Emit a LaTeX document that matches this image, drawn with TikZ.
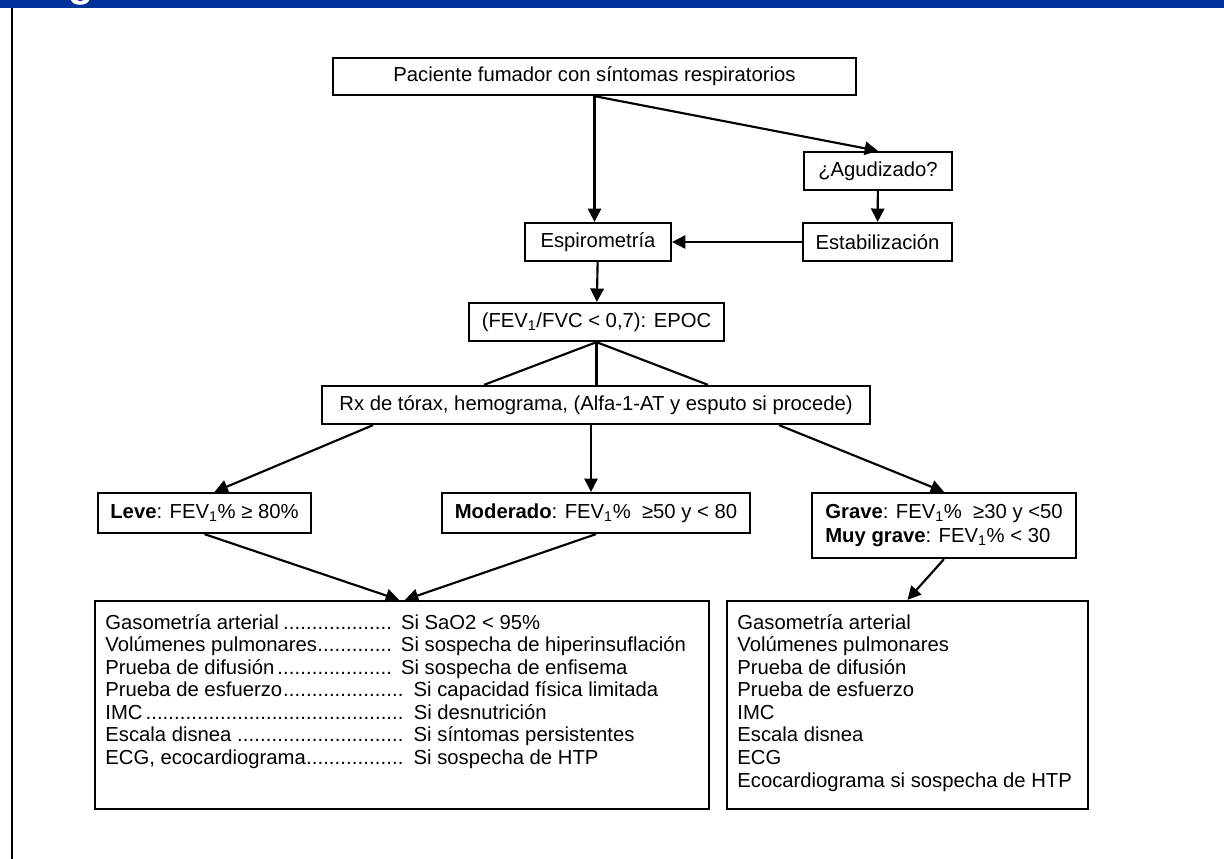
\documentclass[tikz,border=0pt]{standalone}
\usepackage{fontspec}
\setmainfont{Liberation Sans}
\usetikzlibrary{arrows.meta,calc}

\definecolor{barblue}{RGB}{0,51,153}
\newcommand{\puntos}{\leaders\hbox to 4.3pt{\hss.\hss}\hfill}
\newcommand{\fila}[3]{\makebox[#1][l]{#2\puntos} #3}

\tikzset{every picture/.style={line width=0.75pt}}
\tikzset{
  caja/.style={draw, line width=1.7, inner sep=0pt, align=center, font=\fontsize{15.2}{18}\selectfont},
  flecha/.style={line width=1.6, -{Triangle[length=10pt,width=10pt]}},
  linea/.style={line width=1.6},
  lista/.style={inner sep=0pt, align=left, font=\fontsize{15.2}{16.9}\selectfont},
}

\begin{document}
\begin{tikzpicture}[x=0.75pt,y=0.75pt,yscale=-1,xscale=1]
	\useasboundingbox (0,0) rectangle (1224,859);
	
	%Shape: Rectangle [title bar]
	\fill [barblue] (0,0) rectangle (1224,8);
	\begin{scope}
		\clip (0,0) rectangle (1224,8);
		% Text Node
		\node [text=white, inner sep=0pt, anchor=base, font=\fontsize{31}{31}\selectfont\bfseries] (titulo) at (81,-3) {g};
	\end{scope}
	%Straight Lines [frame]
	\draw [linea] (12,8) -- (12,859);
	
	% Text Node
	\node [caja, minimum width=392.25pt, minimum height=27.75pt] (pac) at (594.5,76.5) {Paciente fumador con síntomas respiratorios};
	% Text Node
	\node [caja, minimum width=111pt, minimum height=28.5pt] (agu) at (878,171) {¿Agudizado?};
	% Text Node
	\node [caja, minimum width=109.5pt, minimum height=28.5pt] (esp) at (598,242) {Espirometría};
	% Text Node
	\node [caja, minimum width=111.75pt, minimum height=28.5pt] (est) at (877.5,242) {Estabilización};
	% Text Node
	\node [caja, minimum width=191.25pt, minimum height=28.5pt] (fev) at (596.5,322) {(FEV\textsubscript{1}/FVC < 0,7): EPOC};
	% Text Node
	\node [caja, minimum width=411pt, minimum height=28.5pt] (rx) at (596,405) {Rx de tórax, hemograma, (Alfa-1-AT y esputo si procede)};
	% Text Node
	\node [caja, minimum width=160pt, minimum height=30pt] (leve) at (204.5,513) {\textbf{Leve}: FEV\textsubscript{1}\% ≥ 80\%};
	% Text Node
	\node [caja, minimum width=231pt, minimum height=30pt] (mod) at (596,513) {\textbf{Moderado}: FEV\textsubscript{1}\%~ ≥50 y < 80};
	% Text Node
	\node [caja, align=left, minimum width=198pt, minimum height=48.75pt] (grave) at (944,525.5) {\textbf{Grave}: FEV\textsubscript{1}\%~ ≥30 y <50\\\textbf{Muy grave}: FEV\textsubscript{1}\% < 30};
	
	%Shape: Rectangle [pruebas leve/moderado]
	\node [caja, minimum width=460.5pt, minimum height=156pt] (pru) at (402,705) {};
	% Text Node
	\node [lista, anchor=north west] (pruT) at ($(pru.north west)+(11,14)$) {%
		\fila{217.5pt}{Gasometría arterial}{Si SaO2 < 95\%}\\
		\fila{217.5pt}{Volúmenes pulmonares}{Si sospecha de hiperinsuflación}\\
		\fila{217.5pt}{Prueba de difusión}{Si sospecha de enfisema}\\
		\fila{227pt}{Prueba de esfuerzo}{Si capacidad física limitada}\\
		\fila{227pt}{IMC}{Si desnutrición}\\
		\fila{227pt}{Escala disnea }{Si síntomas persistentes}\\
		\fila{227pt}{ECG, ecocardiograma}{Si sospecha de HTP}};
	%Shape: Rectangle [pruebas grave]
	\node [caja, minimum width=270.75pt, minimum height=156pt] (prg) at (907.5,705) {};
	% Text Node
	\node [lista, anchor=north west] (prgT) at ($(prg.north west)+(11,14)$) {%
		Gasometría arterial\\
		Volúmenes pulmonares\\
		Prueba de difusión\\
		Prueba de esfuerzo\\
		IMC\\
		Escala disnea\\
		ECG\\
		Ecocardiograma si sospecha de HTP};
	
	%Straight Lines
	\draw [flecha] (pac.south) -- (pac.south |- esp.north);
	\draw [flecha] (pac.south) -- (agu.north);
	\draw [flecha] (agu) -- (est);
	\draw [flecha] (est) -- (esp);
	\draw [flecha] (esp) -- (fev);
	%Straight Lines
	\draw [linea] ($(rx.north)+(-112,0)$) -- (fev.south) -- ($(rx.north)+(112,0)$);
	\draw [linea] (fev.south) -- (fev.south |- rx.north);
	%Straight Lines
	\draw [flecha] ($(rx.south)+(-223,0)$) -- ($(leve.north)+(10,0)$);
	\draw [flecha] ($(rx.south)+(-5,0)$) -- ($(mod.north)+(-5,0)$);
	\draw [flecha] ($(rx.south)+(183,0)$) -- (grave.north);
	\draw [flecha] (leve.south) -- ($(pru.north)+(-3,0)$);
	\draw [flecha] (mod.south) -- ($(pru.north)+(3,0)$);
	\draw [flecha] (grave.south) -- (prg.north);
	
\end{tikzpicture}
\end{document}
